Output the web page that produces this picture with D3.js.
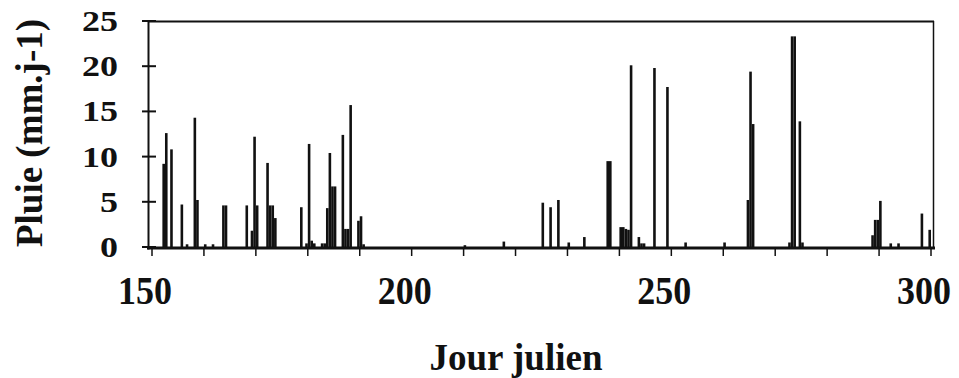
<!DOCTYPE html>
<html>
<head>
<meta charset="utf-8">
<script src="https://cdn.jsdelivr.net/npm/d3@7"></script>
<style>
  body { margin: 0; background: #fff; }
  text { font-family: "Liberation Serif", "Times New Roman", serif; font-weight: bold; fill: #111; }
</style>
</head>
<body>
<svg id="chart" width="959" height="378"></svg>
<script>
// Daily rainfall (half-day resolution), Julian days 150–300
const days = [
  152.0, 152.5, 153.5, 155.5, 156.5, 158.0, 158.5, 160.0, 161.5, 163.5, 164.0,
  168.0, 169.0, 169.5, 170.0, 172.0, 172.5, 173.0, 173.5, 178.5, 179.5, 180.0,
  180.5, 181.0, 182.5, 183.0, 183.5, 184.0, 184.5, 185.0, 186.5, 187.0, 187.5,
  188.0, 189.5, 190.0, 190.5, 210.0, 217.5, 225.0, 226.5, 228.0, 230.0, 233.0,
  237.5, 238.0, 240.0, 240.5, 241.0, 241.5, 242.0, 243.5, 244.0, 244.5, 246.5,
  249.0, 252.5, 260.0, 264.5, 265.0, 265.5, 272.5, 273.0, 273.5, 274.5, 275.0,
  288.5, 289.0, 289.5, 290.0, 292.0, 293.5, 298.0, 299.5
];
const rain = [
  9.2, 12.6, 10.8, 4.7, 0.3, 14.3, 5.2, 0.3, 0.3, 4.6, 4.6,
  4.6, 1.8, 12.2, 4.6, 9.3, 4.6, 4.6, 3.2, 4.4, 0.4, 11.4,
  0.7, 0.4, 0.4, 0.4, 4.3, 10.4, 6.7, 6.7, 12.4, 2.0, 2.0,
  15.7, 2.9, 3.4, 0.3, 0.2, 0.6, 4.9, 4.4, 5.2, 0.5, 1.1,
  9.5, 9.5, 2.2, 2.2, 2.0, 1.9, 20.1, 1.1, 0.4, 0.4, 19.8,
  17.7, 0.5, 0.5, 5.2, 19.4, 13.6, 0.5, 23.3, 23.3, 13.9, 0.5,
  1.3, 3.0, 3.0, 5.1, 0.4, 0.4, 3.7, 1.9
];
const xTickValues = [150, 160, 170, 180, 190, 200, 210, 220, 230, 240, 250, 260, 270, 280, 290, 300];
const xLabels = [150, 200, 250, 300];
const yTicks = [0, 5, 10, 15, 20, 25];

const svg = d3.select("#chart");
const x = d3.scaleLinear().domain([150, 300]).range([152, 931]);
const y = d3.scaleLinear().domain([0, 25]).range([247, 21]);
const ink = "#111";

// rainfall bars, each half a day wide
const step = 0.5;
svg.append("g").selectAll("rect")
  .data(days.map((d, i) => ({ day: d, v: rain[i] })))
  .join("rect")
  .attr("x", d => x(d.day))
  .attr("width", d => x(d.day + step) - x(d.day))
  .attr("y", d => y(d.v))
  .attr("height", d => y(0) - y(d.v))
  .attr("fill", ink);

// frame
const frame = svg.append("g").attr("stroke", ink).attr("fill", "none");
frame.append("line").attr("x1", 148.5).attr("x2", 148.5).attr("y1", 20).attr("y2", 249.5).attr("stroke-width", 2);
frame.append("line").attr("x1", 148).attr("x2", 934).attr("y1", 21.5).attr("y2", 21.5).attr("stroke-width", 2);
frame.append("line").attr("x1", 933.5).attr("x2", 933.5).attr("y1", 21).attr("y2", 249).attr("stroke-width", 1.5);
frame.append("line").attr("x1", 147).attr("x2", 935).attr("y1", 248).attr("y2", 248).attr("stroke-width", 3);

// y ticks crossing the axis
frame.selectAll(".yt").data(yTicks).join("line")
  .attr("x1", 142).attr("x2", 156)
  .attr("y1", d => y(d)).attr("y2", d => y(d))
  .attr("stroke-width", 2);

// x ticks below the axis
frame.selectAll(".xt").data(xTickValues).join("line")
  .attr("x1", d => x(d)).attr("x2", d => x(d))
  .attr("y1", 248).attr("y2", 256)
  .attr("stroke-width", 1.5);

// y tick labels
svg.append("g").selectAll("text").data(yTicks).join("text")
  .attr("transform", d => `translate(118,${y(d)}) scale(1,0.82)`)
  .attr("text-anchor", "end")
  .attr("dy", "0.34em")
  .attr("font-size", 36)
  .text(d => d);

// x tick labels
svg.append("g").selectAll("text").data(xLabels).join("text")
  .attr("transform", d => `translate(${x(d) - 7},303.5) scale(1,1.1)`)
  .attr("text-anchor", "middle")
  .attr("font-size", 36)
  .text(d => d);

// axis titles
svg.append("text")
  .attr("x", 516).attr("y", 370)
  .attr("text-anchor", "middle")
  .attr("font-size", 37)
  .text("Jour julien");

svg.append("text")
  .attr("transform", "translate(42,133) rotate(-90)")
  .attr("text-anchor", "middle")
  .attr("font-size", 37)
  .text("Pluie (mm.j-1)");
</script>
</body>
</html>
